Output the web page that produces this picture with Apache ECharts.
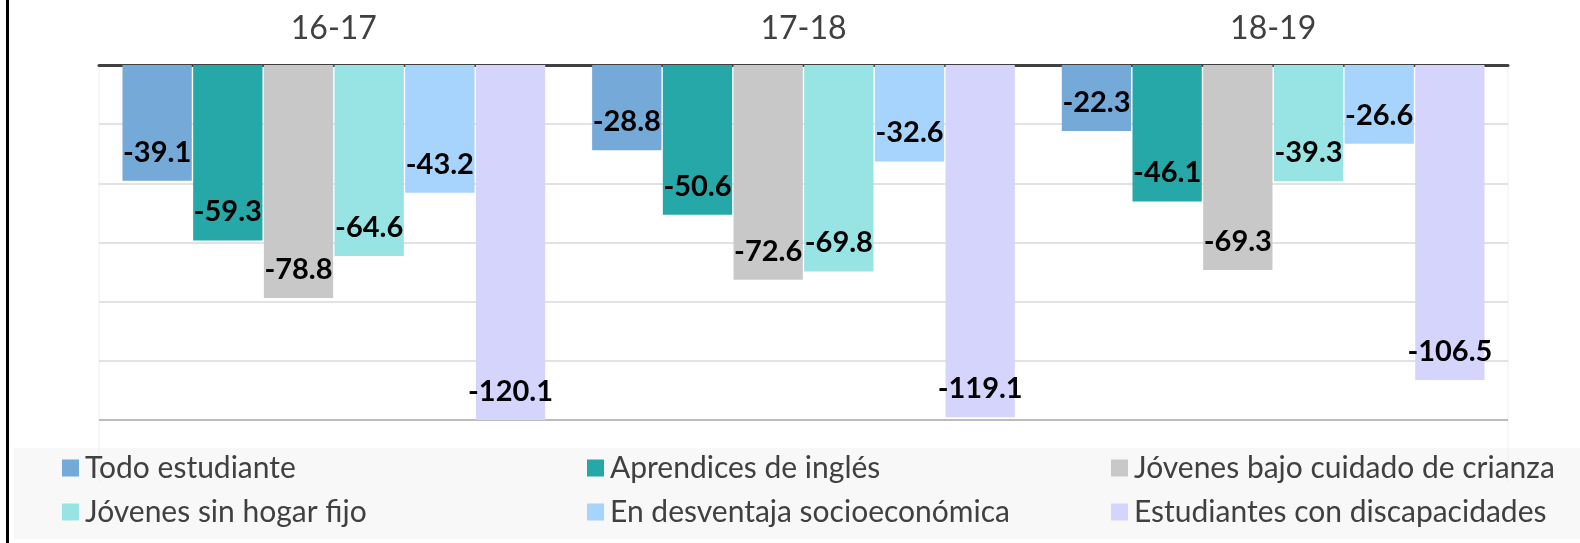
<!DOCTYPE html>
<html><head><meta charset="utf-8">
<script src="https://cdn.jsdelivr.net/npm/echarts@6/dist/echarts.min.js"></script>
<style>html,body{margin:0;padding:0;background:#fff}#c{width:1580px;height:543px}</style>
</head><body><div id="c"></div>
<script>
const categories = ['16-17', '17-18', '18-19'];
const seriesNames = ['Todo estudiante', 'Aprendices de inglés', 'Jóvenes bajo cuidado de crianza',
  'Jóvenes sin hogar fijo', 'En desventaja socioeconómica', 'Estudiantes con discapacidades'];
const todoEstudiante = [-39.1, -28.8, -22.3];
const aprendices = [-59.3, -50.6, -46.1];
const crianza = [-78.8, -72.6, -69.3];
const sinHogar = [-64.6, -69.8, -39.3];
const desventaja = [-43.2, -32.6, -26.6];
const discapacidades = [-120.1, -119.1, -106.5];
const seriesValues = [todoEstudiante, aprendices, crianza, sinHogar, desventaja, discapacidades];
const colors = ['#74a9d8', '#26a8a8', '#c8c8c8', '#98e4e4', '#a6d4fc', '#d4d4fc'];

const chart = echarts.init(document.getElementById('c'));
const legCols = [62, 587, 1111];
const legRows = [453, 497];
chart.setOption({
  animation: false,
  color: colors,
  graphic: [
    {type: 'rect', shape: {x: 14, y: 448, width: 1566, height: 91}, style: {fill: '#f8f8f8'}, z: -10},
    {type: 'line', shape: {x1: 99, y1: 65, x2: 99, y2: 482}, style: {stroke: '#eeeeee', lineWidth: 1}, z: -5},
    {type: 'line', shape: {x1: 1508, y1: 65, x2: 1508, y2: 482}, style: {stroke: '#eeeeee', lineWidth: 1}, z: -5},
    {type: 'line', shape: {x1: 7.5, y1: 0, x2: 7.5, y2: 543}, style: {stroke: '#000', lineWidth: 3}}
  ],
  legend: seriesNames.map((n, i) => ({
    data: [n], left: legCols[i % 3], top: legRows[Math.floor(i / 3)],
    itemWidth: 17, itemHeight: 17, itemGap: 0, padding: 0,
    icon: 'rect',
    textStyle: {fontFamily: 'Lato', fontSize: 30, color: '#404040', padding: [0, 0, 0, 1]}
  })),
  grid: {left: 99, right: 72, top: 65, bottom: 123},
  xAxis: {
    type: 'category', data: categories, position: 'top',
    axisLine: {lineStyle: {color: '#404040', width: 3}},
    axisTick: {show: false},
    axisLabel: {fontFamily: 'Lato', fontSize: 32, color: '#404040', margin: 20}
  },
  yAxis: {
    type: 'value', min: -120, max: 0, interval: 20,
    axisLabel: {show: false}, axisLine: {show: false}, axisTick: {show: false},
    splitLine: {lineStyle: {color: ['#a6a6a6', '#d9d9d9', '#d9d9d9', '#d9d9d9', '#d9d9d9', '#d9d9d9', '#d9d9d9'], width: 1.5}}
  },
  series: seriesNames.map((n, i) => ({
    name: n, type: 'bar', data: seriesValues[i],
    barGap: '2%', barCategoryGap: '10%',
    label: {
      show: true, position: 'insideBottom', distance: 14,
      fontFamily: 'Lato', fontWeight: 'bold', fontSize: 29, color: '#000',
      formatter: p => p.value.toFixed(1)
    }
  }))
});
</script></body></html>
